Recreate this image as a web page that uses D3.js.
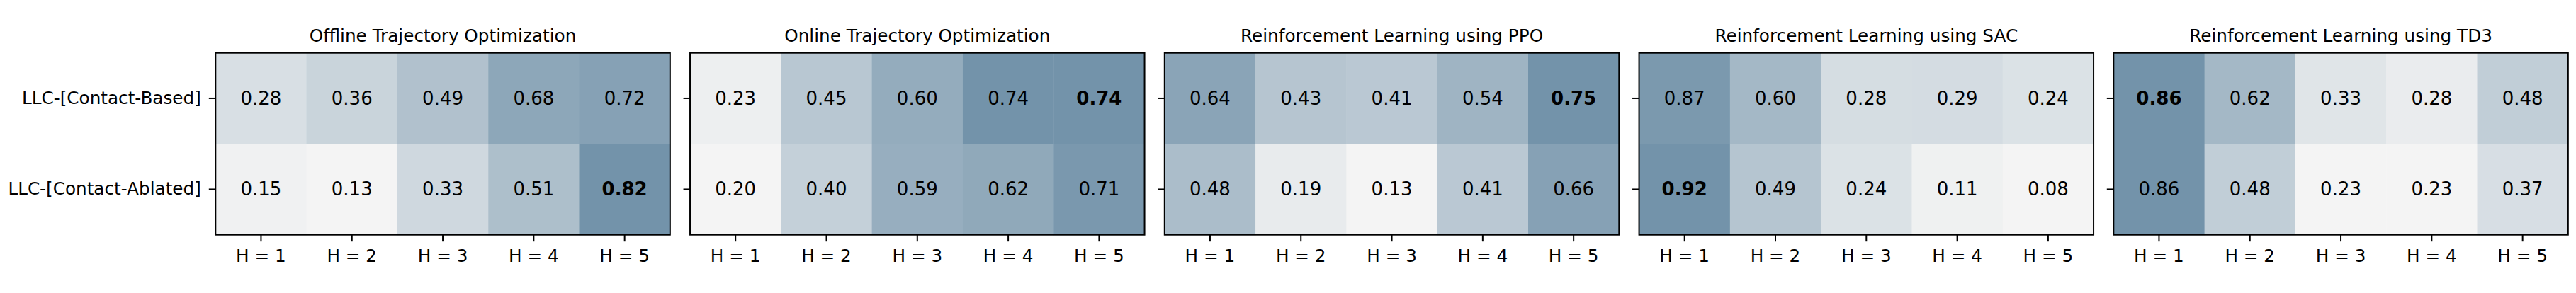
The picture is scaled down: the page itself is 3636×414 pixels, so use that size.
<!DOCTYPE html>
<html><head><meta charset="utf-8">
<script src="https://cdn.jsdelivr.net/npm/d3@7"></script>
<style>
body{margin:0;background:#fff}
text{font-family:"DejaVu Sans",sans-serif;fill:#000}
</style>
</head><body><svg id="chart" width="3636" height="414"></svg>
<script>
// ---- data ----
const panelTitles = [
  "Offline Trajectory Optimization",
  "Online Trajectory Optimization",
  "Reinforcement Learning using PPO",
  "Reinforcement Learning using SAC",
  "Reinforcement Learning using TD3"
];
const rowLabels = ["LLC-[Contact-Based]", "LLC-[Contact-Ablated]"];
const horizonLabels = ["H = 1", "H = 2", "H = 3", "H = 4", "H = 5"];
const offlineTO = [[0.28, 0.36, 0.49, 0.68, 0.72], [0.15, 0.13, 0.33, 0.51, 0.82]];
const onlineTO  = [[0.23, 0.45, 0.60, 0.74, 0.74], [0.20, 0.40, 0.59, 0.62, 0.71]];
const rlPPO     = [[0.64, 0.43, 0.41, 0.54, 0.75], [0.48, 0.19, 0.13, 0.41, 0.66]];
const rlSAC     = [[0.87, 0.60, 0.28, 0.29, 0.24], [0.92, 0.49, 0.24, 0.11, 0.08]];
const rlTD3     = [[0.86, 0.62, 0.33, 0.28, 0.48], [0.86, 0.48, 0.23, 0.23, 0.37]];
const boldCells = [[1, 4], [0, 4], [0, 4], [1, 0], [0, 0]]; // [row, col] highlighted per panel

const panelData = [offlineTO, onlineTO, rlPPO, rlSAC, rlTD3];

// ---- layout ----
const svg = d3.select("#chart");
const panelLeft = 304.3, panelStep = 669.75, panelW = 641.5;
const panelTop = 74.7, panelH = 257;
const lowColor = "#f4f4f4", highColor = "#7393aa";

panelData.forEach((mat, p) => {
  const g = svg.append("g").attr("transform", `translate(${panelLeft + p * panelStep},${panelTop})`);
  const x = d3.scaleBand().domain(horizonLabels).range([0, panelW]);
  const y = d3.scaleBand().domain(rowLabels).range([0, panelH]);
  const flat = mat.flat();
  const color = d3.scaleLinear().domain([d3.min(flat), d3.max(flat)])
    .range([lowColor, highColor]).interpolate(d3.interpolateRgb);

  const cells = [];
  mat.forEach((row, r) => row.forEach((v, c) => cells.push({r, c, v})));

  g.selectAll("rect.cell").data(cells).join("rect")
    .attr("class", "cell")
    .attr("x", d => x(horizonLabels[d.c]))
    .attr("y", d => y(rowLabels[d.r]))
    .attr("width", x.bandwidth() + 0.5)
    .attr("height", y.bandwidth() + 0.5)
    .attr("fill", d => color(d.v));

  g.selectAll("text.annot").data(cells).join("text")
    .attr("class", "annot")
    .attr("x", d => x(horizonLabels[d.c]) + x.bandwidth() / 2)
    .attr("y", d => y(rowLabels[d.r]) + y.bandwidth() / 2)
    .attr("text-anchor", "middle")
    .attr("dominant-baseline", "central")
    .attr("font-size", 26)
    .attr("font-weight", d => (boldCells[p][0] === d.r && boldCells[p][1] === d.c) ? "bold" : "normal")
    .text(d => d.v.toFixed(2));

  // frame
  g.append("rect").attr("x", 0).attr("y", 0).attr("width", panelW).attr("height", panelH)
    .attr("fill", "none").attr("stroke", "#000").attr("stroke-width", 2);

  // axes
  const xAxis = g.append("g").attr("transform", `translate(0,${panelH})`)
    .call(d3.axisBottom(x).tickSize(9.5).tickPadding(11));
  xAxis.select(".domain").remove();
  xAxis.selectAll(".tick line").attr("stroke", "#000").attr("stroke-width", 2);
  xAxis.selectAll(".tick text").attr("font-size", 24.7).attr("font-family", "DejaVu Sans").attr("fill", "#000");

  const yAxis = g.append("g")
    .call(d3.axisLeft(y).tickSize(9.5).tickPadding(11).tickFormat(p === 0 ? (d => d) : () => ""));
  yAxis.select(".domain").remove();
  yAxis.selectAll(".tick line").attr("stroke", "#000").attr("stroke-width", 2);
  yAxis.selectAll(".tick text").attr("font-size", 24.7).attr("font-family", "DejaVu Sans").attr("fill", "#000");

  // title
  g.append("text")
    .attr("x", panelW / 2).attr("y", 59 - panelTop)
    .attr("text-anchor", "middle")
    .attr("font-size", 24.7)
    .text(panelTitles[p]);
});
</script>
</body></html>
